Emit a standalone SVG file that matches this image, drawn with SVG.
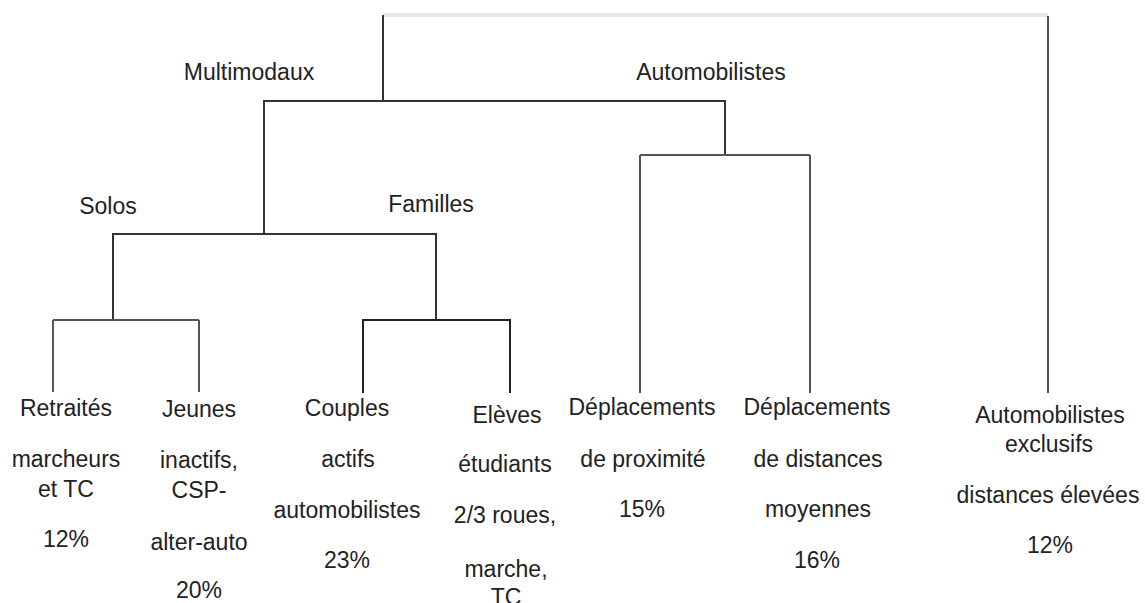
<svg xmlns="http://www.w3.org/2000/svg" width="1145" height="603" viewBox="0 0 1145 603">
<style>
text{font-family:"Liberation Sans",Arial,sans-serif;font-size:23px;fill:#222;text-anchor:middle}
.ln{fill:none;stroke:#333;stroke-width:2;stroke-linecap:square}
.lt{fill:none;stroke:#555;stroke-width:2}
.top{fill:none;stroke:#e6e6e6;stroke-width:4}
</style>
<rect width="1145" height="603" fill="#fff"/>
<g id="connectors">
<line class="top" x1="383" y1="15" x2="1048" y2="15"/>
<path class="ln" d="M383 16V101M264 101H725M264 101V234M725 101V155"/>
<path class="lt" d="M1048 16V393"/>
<path class="lt" d="M640 155H810M640 155V393M810 155V393"/>
<path class="ln" d="M113 234H436M113 234V320M436 234V320"/>
<path class="lt" d="M53 320H199M53 320V392M199 320V392"/>
<path class="ln" d="M363 320H510M363 320V392M510 320V392" style="stroke:#222"/>
</g>
<g id="label-multimodaux"><text x="249" y="80">Multimodaux</text></g>
<g id="label-automobilistes"><text x="711" y="80">Automobilistes</text></g>
<g id="label-solos"><text x="108" y="214">Solos</text></g>
<g id="label-familles"><text x="431" y="212">Familles</text></g>
<g id="node-retraites">
<text x="66" y="416">Retraités</text>
<text x="66" y="467">marcheurs</text>
<text x="66" y="497">et TC</text>
<text x="66" y="547">12%</text>
</g>
<g id="node-jeunes">
<text x="199" y="417">Jeunes</text>
<text x="199" y="468">inactifs,</text>
<text x="199" y="498">CSP-</text>
<text x="199" y="550">alter-auto</text>
<text x="199" y="598">20%</text>
</g>
<g id="node-couples">
<text x="347" y="416">Couples</text>
<text x="348" y="467">actifs</text>
<text x="347" y="518">automobilistes</text>
<text x="347" y="568">23%</text>
</g>
<g id="node-eleves">
<text x="507" y="423">Elèves</text>
<text x="505" y="472">étudiants</text>
<text x="505" y="523">2/3 roues,</text>
<text x="506" y="577">marche,</text>
<text x="506" y="605">TC</text>
</g>
<g id="node-proximite">
<text x="642" y="415">Déplacements</text>
<text x="643" y="467">de proximité</text>
<text x="642" y="517">15%</text>
</g>
<g id="node-moyennes">
<text x="817" y="415">Déplacements</text>
<text x="818" y="467">de distances</text>
<text x="818" y="517">moyennes</text>
<text x="817" y="568">16%</text>
</g>
<g id="node-exclusifs">
<text x="1050" y="423">Automobilistes</text>
<text x="1049" y="452">exclusifs</text>
<text x="1048" y="503">distances élevées</text>
<text x="1050" y="553">12%</text>
</g>
</svg>
